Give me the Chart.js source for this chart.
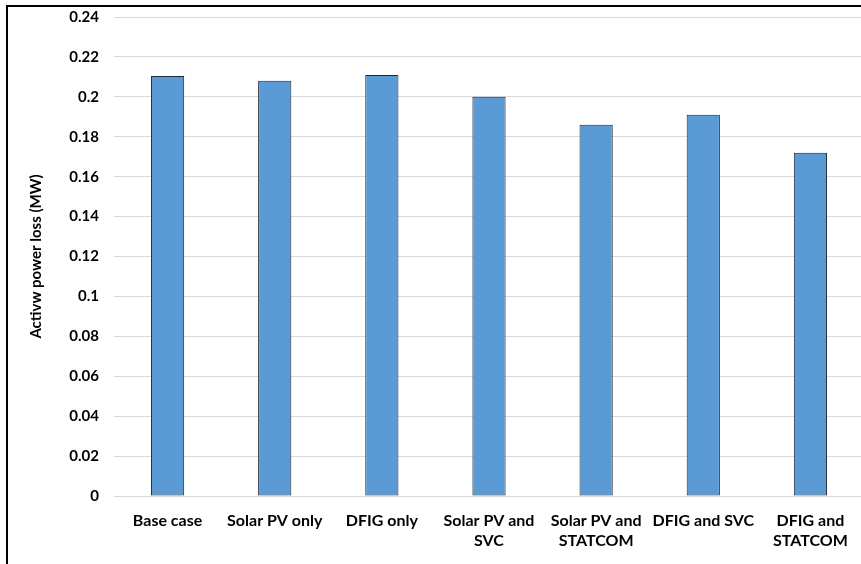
<!DOCTYPE html>
<html>
<head>
<meta charset="utf-8">
<script src="https://cdn.jsdelivr.net/npm/chart.js@4"></script>
<style>
  html, body { margin: 0; padding: 0; background: #fff; overflow: hidden; width: 861px; height: 564px; }
  #wrap { position: absolute; left: 0; top: 0; width: 864px; height: 564px; }
  #frame { position: absolute; left: 6px; top: 5px; width: 900px; height: 600px; border-top: 2px solid #000; border-left: 2px solid #000; pointer-events: none; }
</style>
</head>
<body>
<div id="wrap"><canvas id="c" width="864" height="564"></canvas></div>
<div id="frame"></div>
<script>
const categories = [
  "Base case",
  "Solar PV only",
  "DFIG only",
  ["Solar PV and", "SVC"],
  ["Solar PV and", "STATCOM"],
  "DFIG and SVC",
  ["DFIG and", "STATCOM"]
];
const lossValues = [0.2105, 0.208, 0.211, 0.200, 0.186, 0.191, 0.172];
const yTicks = [0, 0.02, 0.04, 0.06, 0.08, 0.1, 0.12, 0.14, 0.16, 0.18, 0.2, 0.22, 0.24];
const yTitle = "Activw power loss (MW)";

const fontFamily = "Lato, 'Open Sans', 'Liberation Sans', sans-serif";

new Chart(document.getElementById('c'), {
  type: 'bar',
  data: {
    labels: categories,
    datasets: [{
      data: lossValues,
      backgroundColor: '#5B9BD5',
      borderColor: '#1E2733',
      borderWidth: 1,
      borderSkipped: false,
      categoryPercentage: 1,
      barPercentage: 0.31
    }]
  },
  options: {
    responsive: false,
    animation: false,
    devicePixelRatio: 1,
    layout: { padding: { top: 17, left: 0, right: 0, bottom: 0 } },
    plugins: { legend: { display: false }, tooltip: { enabled: false } },
    scales: {
      x: {
        grid: { display: false, drawTicks: false },
        border: { display: true, color: '#D9D9D9', width: 1 },
        ticks: {
          color: '#000',
          font: { family: fontFamily, size: 16, weight: 'bold', lineHeight: 1.3 },
          padding: 14,
          maxRotation: 0,
          autoSkip: false
        },
        afterFit: (s) => { s.height = 68; }
      },
      y: {
        min: 0,
        max: 0.24,
        afterBuildTicks: (s) => { s.ticks = yTicks.map(v => ({ value: v })); },
        grid: { color: '#D9D9D9', lineWidth: 1, drawTicks: true, tickLength: 15, tickColor: 'rgba(0,0,0,0)' },
        border: { display: false },
        ticks: {
          color: '#000',
          font: { family: fontFamily, size: 15, weight: 'bold' },
          padding: 0,
          callback: (v) => String(Number(v.toFixed(2)))
        },
        title: {
          display: true,
          text: yTitle,
          color: '#000',
          font: { family: fontFamily, size: 15, weight: 'bold' },
          padding: { top: 27, bottom: 0 }
        },
        afterFit: (s) => { s.width = 114; }
      }
    }
  }
});
</script>
</body>
</html>
